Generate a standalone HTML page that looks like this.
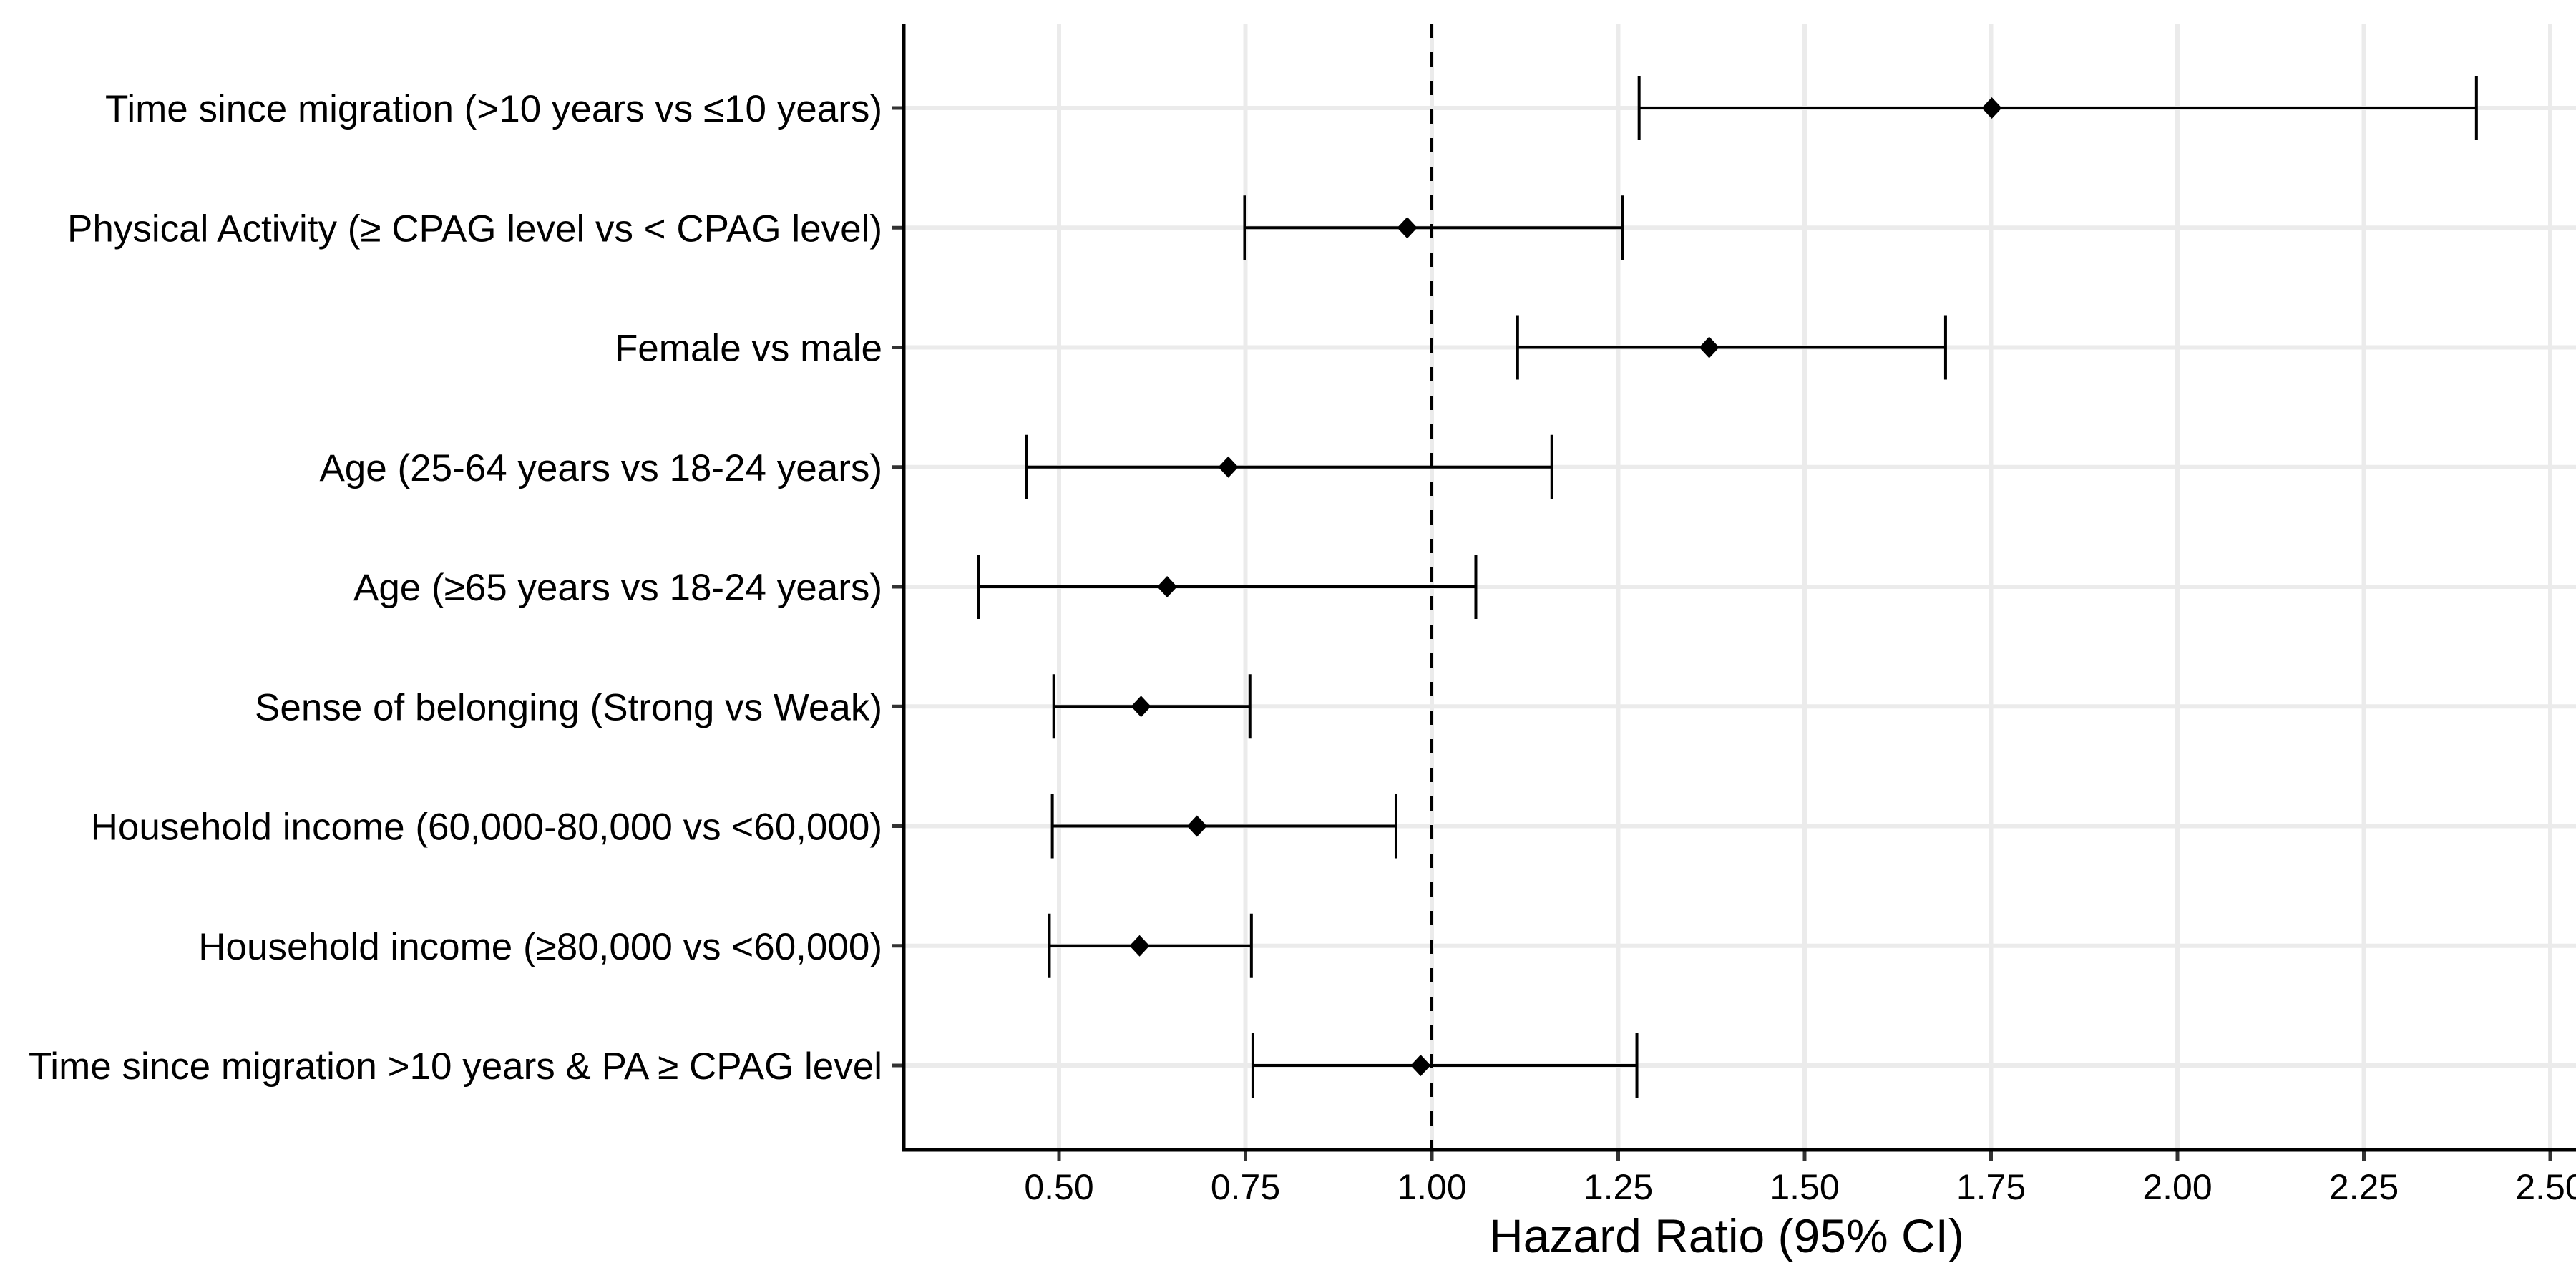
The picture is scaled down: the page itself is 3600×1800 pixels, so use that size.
<!DOCTYPE html>
<html><head><meta charset="utf-8"><style>
html,body{margin:0;padding:0;background:#fff;}
svg{display:block;font-family:"Liberation Sans","DejaVu Sans",sans-serif;}
</style></head><body>
<svg id="chart" width="3600" height="1800" viewBox="0 0 3600 1800" xmlns="http://www.w3.org/2000/svg">
<g id="grid"></g>
<g id="marks"></g>
<g id="axes"></g>
</svg>
<script>
const categories = ["Time since migration (>10 years vs \u226410 years)","Physical Activity (\u2265 CPAG level vs < CPAG level)","Female vs male","Age (25-64 years vs 18-24 years)","Age (\u226565 years vs 18-24 years)","Sense of belonging (Strong vs Weak)","Household income (60,000-80,000 vs <60,000)","Household income (\u226580,000 vs <60,000)","Time since migration >10 years & PA \u2265 CPAG level"];
const estimates = [1.751,0.967,1.372,0.727,0.645,0.610,0.685,0.608,0.985];
const lowerCI = [1.278,0.749,1.115,0.456,0.392,0.493,0.491,0.487,0.760];
const upperCI = [2.401,1.256,1.689,1.161,1.059,0.756,0.952,0.758,1.275];
const xTicks = [0.5,0.75,1.0,1.25,1.5,1.75,2.0,2.25,2.5];
const xTickLabels = ["0.50","0.75","1.00","1.25","1.50","1.75","2.00","2.25","2.50"];
const refValue = 1.0;

const NS="http://www.w3.org/2000/svg";
const L=1263,T=33,B=1607,R=3600;
function xs(v){return 2001+(v-1)*1042;}
function ys(i){return 151+i*167.25;}
function mk(tag,attrs,parent){const e=document.createElementNS(NS,tag);for(const k in attrs)e.setAttribute(k,attrs[k]);parent.appendChild(e);return e;}
const grid=document.getElementById('grid'),marks=document.getElementById('marks'),axes=document.getElementById('axes');

xTicks.forEach((t,i)=>{
  const g=mk('line',{x1:xs(t),x2:xs(t),y1:T,y2:B,stroke:'#ebebeb','stroke-width':6},grid);
  
  
  const tk=mk('line',{x1:xs(t),x2:xs(t),y1:B,y2:B+16,stroke:'#333','stroke-width':5},axes);
  
  
  const tl=mk('text',{x:xs(t),y:1676,'text-anchor':'middle','font-size':50,fill:'#000'},axes);
  tl.textContent=xTickLabels[i];
  
  
});
categories.forEach((c,i)=>{
  const g=mk('line',{x1:L,x2:R,y1:ys(i),y2:ys(i),stroke:'#ebebeb','stroke-width':6},grid);
  
  
  const tk=mk('line',{x1:L-16,x2:L,y1:ys(i),y2:ys(i),stroke:'#333','stroke-width':5},axes);
  
  
  const tl=mk('text',{x:1233,y:ys(i)+19,'text-anchor':'end','font-size':53,fill:'#000'},axes);
  tl.textContent=c;
  
  
});
const ref=mk('line',{x1:xs(refValue),x2:xs(refValue),y1:T,y2:B,stroke:'#000','stroke-width':4,'stroke-dasharray':'20,20'},marks);


categories.forEach((c,i)=>{
  const y=ys(i),lo=xs(lowerCI[i]),hi=xs(upperCI[i]),p=xs(estimates[i]);
  const g=mk('g',{},marks);
  
  
  mk('line',{x1:lo,x2:hi,y1:y,y2:y,stroke:'#000','stroke-width':4},g);
  mk('line',{x1:lo,x2:lo,y1:y-45,y2:y+45,stroke:'#000','stroke-width':4},g);
  mk('line',{x1:hi,x2:hi,y1:y-45,y2:y+45,stroke:'#000','stroke-width':4},g);
  const d=mk('polygon',{points:`${p},${y-15} ${p+14},${y} ${p},${y+15} ${p-14},${y}`,fill:'#000'},marks);
  
  
});
const ya=mk('line',{x1:L,x2:L,y1:T,y2:B+2,stroke:'#000','stroke-width':5},axes);


const xa=mk('line',{x1:L-2,x2:R,y1:B,y2:B,stroke:'#000','stroke-width':5},axes);


const ti=mk('text',{x:2413,y:1750,'text-anchor':'middle','font-size':66,fill:'#000'},axes);
ti.textContent='Hazard Ratio (95% CI)';


</script>
</body></html>
